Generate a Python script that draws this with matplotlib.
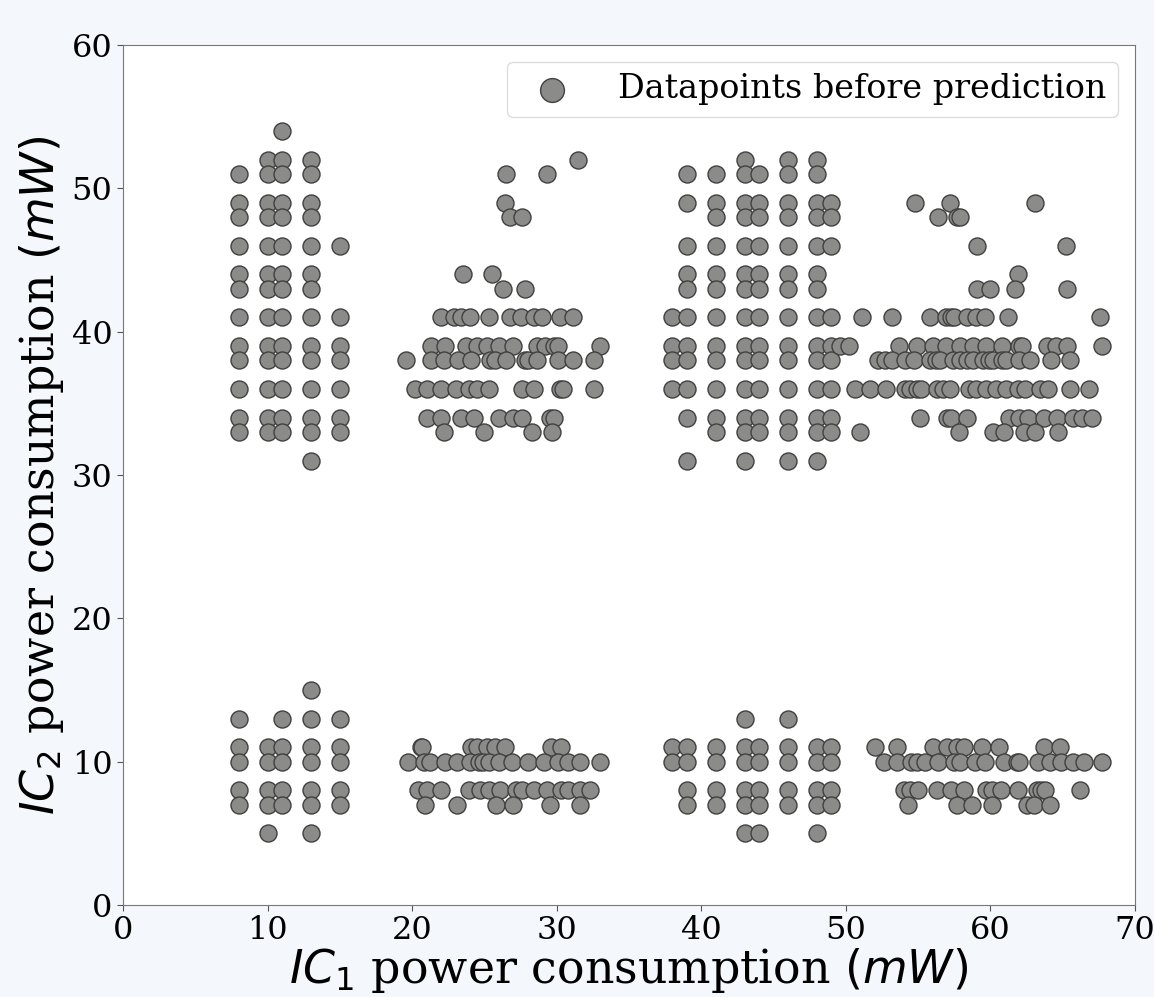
import numpy as np
import matplotlib.pyplot as plt

plt.rcParams['font.family'] = 'DejaVu Serif'
plt.rcParams['mathtext.fontset'] = 'dejavusans'

# columns of points with integer IC1 values (x -> list of y)
grid_upper = {
    8: [51, 49, 48, 46, 44, 43, 41, 39, 38, 36, 34, 33],
    10: [52, 51, 49, 48, 46, 44, 43, 41, 39, 38, 36, 34, 33],
    11: [54, 52, 51, 49, 48, 46, 44, 43, 41, 39, 38, 36, 34, 33],
    13: [52, 51, 49, 48, 46, 44, 43, 41, 39, 38, 36, 34, 33, 31],
    15: [46, 41, 39, 38, 36, 34, 33],
    38: [41, 39, 38, 36],
    39: [51, 49, 46, 44, 43, 41, 39, 38, 36, 34, 31],
    41: [51, 49, 48, 46, 44, 43, 41, 39, 38, 36, 34, 33],
    43: [52, 51, 49, 48, 46, 44, 43, 41, 39, 38, 36, 34, 33, 31],
    44: [51, 49, 48, 46, 44, 43, 41, 39, 38, 36, 34, 33],
    46: [52, 51, 49, 48, 46, 44, 43, 41, 39, 38, 36, 34, 33, 31],
    48: [52, 51, 49, 48, 46, 44, 43, 41, 39, 38, 36, 34, 33, 31],
    49: [49, 48, 46, 41, 39, 38, 36, 34, 33],
}
grid_lower = {
    8: [13, 11, 10, 8, 7],
    10: [11, 10, 8, 7, 5],
    11: [13, 11, 10, 8, 7],
    13: [15, 13, 11, 10, 8, 7, 5],
    15: [13, 11, 10, 8, 7],
    38: [11, 10],
    39: [11, 10, 8, 7],
    41: [11, 10, 8, 7],
    43: [13, 11, 10, 8, 7, 5],
    44: [11, 10, 8, 7, 5],
    46: [13, 11, 10, 8, 7],
    48: [11, 10, 8, 7, 5],
    49: [11, 10, 8, 7],
}

# rows of points with non-integer IC1 values (y -> list of x)
rows_mid = {
    52: [31.5],
    51: [26.5, 29.3],
    49: [26.4],
    48: [26.8, 27.6],
    44: [23.5, 25.5],
    43: [26.3, 27.8],
    41: [22.0, 22.9, 23.4, 24.0, 25.3, 26.8, 27.5, 28.4, 29.0, 30.2, 31.1],
    39: [21.3, 22.3, 23.7, 24.5, 25.2, 26.0, 27.0, 28.6, 29.2, 29.8, 30.1, 33.0],
    38: [19.6, 21.3, 22.2, 23.2, 24.1, 25.4, 25.7, 26.5, 27.8, 28.0, 28.6, 30.1, 31.1, 32.6],
    36: [20.2, 21.0, 22.0, 23.0, 23.9, 24.5, 25.3, 27.6, 28.4, 30.2, 30.4, 32.6],
    34: [21.0, 22.0, 23.4, 24.3, 26.0, 27.0, 27.6, 29.5, 29.8],
    33: [22.2, 25.0, 28.3, 29.7],
    11: [20.6, 20.7, 24.1, 24.5, 25.2, 25.7, 26.4, 29.6, 30.3],
    10: [19.7, 20.8, 21.2, 22.3, 23.1, 24.0, 24.6, 24.9, 25.3, 26.0, 26.9, 28.0,
         29.1, 30.1, 30.8, 31.6, 33.0],
    8: [20.4, 21.0, 22.0, 23.9, 24.7, 25.3, 26.1, 27.2, 27.6, 28.4, 29.3, 30.3,
        30.8, 31.6, 32.3],
    7: [20.9, 23.1, 25.8, 27.0, 29.5, 31.6],
}
rows_right = {
    49: [54.8, 57.2, 63.1],
    48: [56.4, 57.7, 57.9],
    46: [59.1, 65.2],
    44: [61.9],
    43: [59.1, 60.0, 61.7, 65.3],
    41: [51.1, 53.2, 55.8, 56.9, 57.3, 57.5, 58.4, 59.0, 59.6, 61.2, 67.6],
    39: [49.6, 50.2, 53.7, 54.9, 56.0, 56.9, 57.9, 58.8, 59.7, 60.8, 62.0, 62.2,
         63.9, 64.5, 65.3, 67.7],
    38: [52.2, 52.7, 53.2, 54.1, 54.7, 55.8, 56.2, 56.5, 57.4, 57.9, 58.4, 58.8,
         59.5, 59.9, 60.2, 60.8, 61.1, 62.0, 62.7, 64.2, 65.5],
    36: [50.6, 51.7, 52.8, 54.1, 54.4, 54.9, 55.2, 56.3, 56.7, 57.2, 58.5, 59.0,
         59.7, 60.4, 61.1, 61.9, 62.4, 63.4, 64.0, 65.5, 66.8],
    34: [55.1, 57.0, 57.3, 58.4, 61.3, 62.0, 62.6, 63.7, 64.6, 65.7, 66.3, 67.0],
    33: [51.0, 57.8, 60.2, 60.9, 62.3, 63.1, 64.7],
    11: [52.0, 53.5, 56.0, 57.0, 57.7, 58.2, 59.4, 60.6, 63.7, 64.8],
    10: [52.6, 53.5, 54.5, 54.9, 55.5, 56.4, 57.5, 57.9, 58.9, 59.6, 60.9, 61.8,
         62.0, 63.3, 64.1, 64.9, 65.7, 66.5, 67.7],
    8: [54.0, 54.4, 55.0, 56.3, 57.3, 58.2, 59.7, 60.1, 60.7, 61.9, 63.2, 63.5,
        63.8, 66.2],
    7: [54.3, 57.7, 58.7, 60.1, 62.5, 63.0, 64.1],
}

xs, ys = [], []
for grid in (grid_upper, grid_lower):
    for gx, gys in grid.items():
        xs += [gx] * len(gys)
        ys += gys
for rows in (rows_mid, rows_right):
    for ry, rxs in rows.items():
        xs += rxs
        ys += [ry] * len(rxs)

fig = plt.figure(figsize=(11.54, 9.97), dpi=100, facecolor='#f4f7fc')
ax = fig.add_axes([0.1066, 0.0923, 0.877, 0.8626])
ax.set_facecolor('white')

ax.scatter(xs, ys, s=150, c='#8b8c8a', edgecolors='#404040', linewidths=1.0,
           label='Datapoints before prediction', zorder=3)

ax.set_xlim(0, 70)
ax.set_ylim(0, 60)
ax.set_xticks(np.arange(0, 71, 10))
ax.set_yticks(np.arange(0, 61, 10))
ax.tick_params(labelsize=23, color='#555555', length=4)
for sp in ax.spines.values():
    sp.set_color('#777777')

ax.set_xlabel('$IC_1$ power consumption $(mW)$', fontsize=33, labelpad=0)
ax.set_ylabel('$IC_2$ power consumption $(mW)$', fontsize=33, labelpad=4)

leg = ax.legend(loc='upper right', fontsize=24, markerscale=1.4,
                fancybox=True, framealpha=1.0, edgecolor='#dddddd',
                borderpad=0.35, handletextpad=1.0)

fig.savefig('out.png', dpi=100, facecolor=fig.get_facecolor())
